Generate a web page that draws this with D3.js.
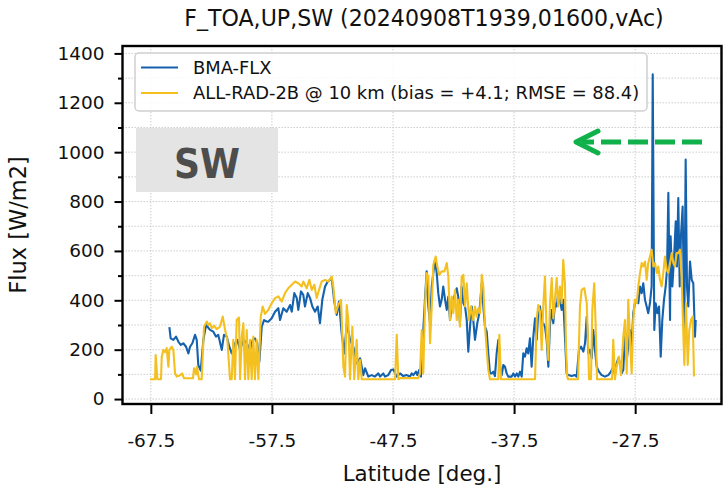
<!DOCTYPE html>
<html><head><meta charset="utf-8">
<script src="https://cdn.jsdelivr.net/npm/d3@7"></script>
<style>body{margin:0;background:#fff}svg{display:block}text{font-family:"DejaVu Sans",sans-serif}</style>
</head><body><svg id="c" width="725" height="487"></svg>
<script>
// ---- data ----
const titleText = "F_TOA,UP,SW (20240908T1939,01600,vAc)";
const xTickValues = [-67.5, -57.5, -47.5, -37.5, -27.5];
const xTickLabels = ["-67.5", "-57.5", "-47.5", "-37.5", "-27.5"];
const yTickValues = [0, 200, 400, 600, 800, 1000, 1200, 1400];
const yMinorValues = [100, 300, 500, 700, 900, 1100, 1300];
const seriesNames = ["BMA-FLX", "ALL-RAD-2B @ 10 km (bias = +4.1; RMSE = 88.4)"];

const bmaLat = [
 -65.97,-65.86,-65.64,-65.42,-65.23,-65.03,-64.82,-64.59,-64.40,-64.26,-64.07,-63.85,-63.71,-63.58,-63.38,-63.16,-62.94,-62.61,-62.34,-62.12,-61.93,-61.64,-61.46,-61.23,-61.02,-60.82,-60.55,-60.36,-60.13,-59.86,-59.58,-59.31,-59.08,-58.90,-58.71,-58.54,
 -58.34,-58.15,-57.93,-57.80,-57.52,-57.24,-56.97,-56.83,-56.56,-56.28,-56.00,-55.86,-55.65,-55.45,-55.32,-55.10,-54.91,-54.77,-54.54,-54.35,-54.16,-53.94,-53.72,-53.53,-53.34,-53.11,-52.89,-52.70,-52.56,-52.35,-52.15,-51.96,-51.74,-51.52,-51.32,-51.05,-50.78,-50.50,-50.22,-49.95,-49.81,-49.54,-49.26,-48.99,-48.71,-48.57,-48.30,-48.16,-47.89,-47.66,
 -47.47,-47.19,-46.92,-46.65,-46.37,-46.10,-45.95,-45.82,-45.60,-45.49,-45.33,-45.19,-45.00,-44.86,-44.72,-44.58,-44.44,-44.30,-44.17,-44.03,-43.89,-43.76,-43.62,-43.48,-43.35,-43.20,-43.06,-42.93,-42.79,-42.65,-42.52,-42.24,-42.11,-41.97,-41.83,-41.69,-41.55,-41.41,-41.28,-41.14,-41.00,-40.87,-40.73,-40.54,-40.37,-40.17,-40.04,-39.90,-39.76,-39.63,-39.49,-39.35,-39.22,-39.08,-38.94,-38.80,-38.66,-38.52,-38.39,-38.25,
 -38.11,-37.98,-37.70,-37.56,-37.42,-37.28,-37.15,-37.01,-36.87,-36.74,-36.60,-36.46,-36.33,-36.19,-36.05,-35.91,-35.77,-35.63,-35.50,-35.36,-35.22,-35.09,-34.95,-34.81,-34.67,-34.53,-34.39,-34.26,-34.12,-33.98,-33.85,-33.71,-33.57,-33.44,-33.30,-33.16,-33.02,-32.74,-32.47,-32.33,-32.14,-31.97,-31.78,-31.64,-31.50,-31.37,-31.23,-31.09,-30.96,-30.82,-30.68,-30.49,-30.27,-29.99,-29.72,-29.50,-29.31,-29.17,-29.03,-28.89,-28.75,-28.61,-28.48,
 -28.34,-28.20,-28.07,-27.93,-27.79,-27.66,-27.52,-27.37,-27.24,-27.10,-26.96,-26.83,-26.69,-26.55,-26.42,-26.28,-26.14,-26.05,-25.92,-25.81,-25.67,-25.53,-25.39,-25.26,-25.12,-24.98,-24.87,-24.76,-24.62,-24.57,-24.43,-24.27,-24.15,-24.05,-23.94,-23.82,-23.72,-23.58,-23.44,-23.33,-23.22,-23.11,-22.97,-22.83,-22.70,-22.56,-22.50
];
const bmaFlux = [
 291,246,240,253,233,219,226,212,185,212,226,260,240,138,115,240,300,280,273,253,260,199,260,253,212,185,226,240,199,240,226,199,240,246,226,151,
 293,320,314,313,327,354,368,320,368,354,381,354,429,409,361,436,422,375,429,409,375,354,375,307,402,456,476,483,490,395,341,395,267,185,307,240,212,145,165,97,125,91,97,91,104,91,104,91,97,118,
 120,91,104,93,97,91,104,97,111,97,118,91,280,402,517,375,307,456,510,564,510,429,375,402,456,402,361,415,320,375,402,449,415,307,456,388,375,320,192,293,375,320,240,307,348,469,375,293,273,185,104,104,111,93,185,240,131,97,138,131,
 104,91,91,104,91,104,91,111,91,185,172,206,185,246,131,253,327,240,361,375,307,307,293,240,131,307,361,307,388,375,429,402,361,402,253,104,97,93,97,91,199,212,192,226,334,185,199,165,280,199,131,111,97,91,97,111,131,97,145,165,145,104,118,
 267,158,212,280,212,348,388,402,388,456,429,469,402,375,348,388,456,1315,280,388,348,375,172,320,402,456,524,835,320,659,456,591,720,537,814,456,660,780,280,970,456,375,557,483,469,253,320
];

const radLat = [
 -67.57,-67.15,-67.10,-66.96,-66.66,-66.60,-66.47,-66.33,-66.19,-66.05,-65.97,-65.77,-65.64,-65.50,-65.36,-65.09,-64.92,-64.76,-64.26,-64.02,-63.93,-63.81,-63.77,-63.69,-63.52,
 -63.30,-63.11,-62.88,-62.75,-62.61,-62.47,-62.28,-62.06,-61.79,-61.56,-61.37,-61.18,-60.96,-60.82,-60.69,-60.55,-60.41,-60.22,-60.13,-59.99,-59.86,-59.72,-59.58,-59.45,-59.31,-59.17,-59.04,-58.90,-58.76,-58.62,
 -58.42,-58.26,-58.07,-57.80,-57.52,-57.24,-56.97,-56.69,-56.42,-56.15,-55.86,-55.59,-55.32,-55.04,-54.91,-54.63,-54.41,-54.21,-54.00,-53.80,-53.61,-53.39,-53.11,-52.84,-52.56,-52.43,-52.23,-52.02,-51.79,-51.60,-51.46,-51.32,-51.19,-51.05,-50.86,-50.70,-50.50,-50.37,-50.22,-50.08,
 -47.33,-47.19,-47.06,-46.92,-45.41,-45.27,-45.13,-45.00,-44.86,-44.72,-44.58,-44.44,-44.30,-44.17,-43.97,-43.84,-43.68,-43.48,-43.26,-43.06,-42.93,-42.79,-42.65,-42.52,-42.38,-42.24,-42.11,-41.97,-41.83,-41.69,-41.55,-41.41,-41.22,-41.06,-40.87,-40.73,-40.59,-40.46,-40.31,-40.17,-40.04,-39.90,-39.76,-39.63,-39.49,-38.80,-38.72,-38.58,
 -35.77,-35.63,-35.50,-35.36,-35.22,-35.09,-34.95,-34.81,-34.67,-34.53,-34.39,-34.26,-34.12,-33.98,-33.85,-33.71,-33.57,-33.44,-33.30,-33.21,-33.11,-33.05,-32.22,-32.06,-31.92,-31.70,-31.50,-31.37,-31.31,-31.15,-31.04,-30.88,-30.76,-30.65,
 -29.41,-29.31,-29.17,-29.03,-28.84,-28.67,-28.48,-28.34,-28.20,-28.07,-27.93,-27.79,-27.66,-27.52,-27.37,-27.24,-27.10,-26.96,-26.83,-26.69,-26.55,-26.42,-26.28,-26.14,-26.00,-25.86,-25.72,-25.59,-25.45,-25.31,-25.18,-25.04,-24.90,-24.76,-24.62,-24.48,-24.35,-24.21,-24.07,-23.94,-23.80,-23.66,-23.53,-23.44,-23.30,-23.16,-23.03,-22.89,-22.75,-22.64
];
const radFlux = [
 80,80,178,80,80,170,199,190,206,131,199,212,199,104,91,96,104,84,84,84,125,110,100,131,80,
 80,293,314,300,307,287,297,283,293,334,280,240,80,80,240,80,320,330,80,253,307,80,280,80,240,80,253,80,240,80,
 334,375,345,361,388,409,416,395,429,449,463,476,469,456,476,449,483,442,463,409,442,476,483,476,496,456,348,381,402,131,91,381,320,80,293,80,240,80,158,80,
 80,260,80,85,85,104,280,104,375,510,496,226,375,544,577,537,503,517,517,551,496,320,415,348,442,320,402,293,496,503,375,469,320,375,320,375,334,368,348,503,456,293,199,118,80,80,260,80,
 80,327,381,354,199,375,496,267,158,388,490,327,409,490,375,456,388,564,469,199,91,80,80,375,442,449,388,199,80,80,361,469,293,80,
 80,240,80,131,172,97,253,320,104,402,240,104,320,402,389,456,510,551,537,557,483,551,577,605,537,551,510,537,483,456,510,577,524,510,551,591,551,537,591,591,605,483,280,138,388,138,280,320,334,91
];
const colors = ["#1461ad", "#f4c020"];

// ---- layout ----
const svg = d3.select("#c");
const L = 122.5, R = 721.5, T = 46, B = 404;
const x = d3.scaleLinear().domain([-69.84, -20.37]).range([L, R]);
const y = d3.scaleLinear().domain([-20, 1430]).range([B, T]);

// grid
const grid = svg.append("g");
grid.selectAll("line.h").data(yTickValues.concat(yMinorValues)).join("line")
  .attr("x1", L).attr("x2", R).attr("y1", d => y(d)).attr("y2", d => y(d))
  .attr("stroke", "#c4c4c4").attr("stroke-width", 0.9).attr("stroke-dasharray", "1.4,1.6");
grid.selectAll("line.v").data(xTickValues).join("line")
  .attr("y1", T).attr("y2", B).attr("x1", d => x(d)).attr("x2", d => x(d))
  .attr("stroke", "#c4c4c4").attr("stroke-width", 0.9).attr("stroke-dasharray", "1.4,1.6");

// clip
svg.append("clipPath").attr("id", "clip").append("rect")
  .attr("x", L).attr("y", T).attr("width", R - L).attr("height", B - T);

const line = d3.line().x(d => x(d[0])).y(d => y(d[1]));
const bma = bmaLat.map((v, i) => [v, bmaFlux[i]]);
const rad = radLat.map((v, i) => [v, radFlux[i]]);
const gl = svg.append("g").attr("clip-path", "url(#clip)");
gl.append("path").datum(bma).attr("d", line).attr("fill", "none")
  .attr("stroke", colors[0]).attr("stroke-width", 2.1).attr("stroke-linejoin", "round");
gl.append("path").datum(rad).attr("d", line).attr("fill", "none")
  .attr("stroke", colors[1]).attr("stroke-width", 2.1).attr("stroke-linejoin", "round");

// axes
const xAxis = d3.axisBottom(x).tickValues(xTickValues).tickFormat((d, i) => xTickLabels[i]).tickSize(10).tickPadding(20);
const gx = svg.append("g").attr("transform", `translate(0,${B})`).call(xAxis);
const yAxis = d3.axisLeft(y).tickValues(yTickValues).tickFormat(d3.format("d")).tickSize(8).tickPadding(10);
const gy = svg.append("g").attr("transform", `translate(${L},0)`).call(yAxis);
const yMinor = d3.axisLeft(y).tickValues(yMinorValues).tickSize(4.5).tickFormat("");
const gym = svg.append("g").attr("transform", `translate(${L},0)`).call(yMinor);
[gx, gy, gym].forEach(g => {
  g.select(".domain").remove();
  g.selectAll(".tick line").attr("stroke", "#000").attr("stroke-width", 2);
  g.selectAll(".tick text").attr("fill", "#111").style("font-size", "18.5px").style("font-family", "DejaVu Sans");
});

// frame
svg.append("rect").attr("x", L).attr("y", T).attr("width", R - L).attr("height", B - T)
  .attr("fill", "none").attr("stroke", "#000").attr("stroke-width", 2.4);

// title & labels
svg.append("text").attr("x", 424).attr("y", 26).attr("text-anchor", "middle")
  .style("font-size", "22.1px").attr("fill", "#111").text(titleText);
svg.append("text").attr("x", 422).attr("y", 481).attr("text-anchor", "middle")
  .style("font-size", "21.4px").attr("fill", "#111").text("Latitude [deg.]");
svg.append("text").attr("transform", "translate(26,225) rotate(-90)").attr("text-anchor", "middle")
  .style("font-size", "22.5px").attr("fill", "#111").text("Flux [W/m2]");

// legend
const lg = svg.append("g");
lg.append("rect").attr("x", 135).attr("y", 53).attr("width", 512).attr("height", 58).attr("rx", 4)
  .attr("fill", "#fff").attr("fill-opacity", 0.85).attr("stroke", "#d0d0d0").attr("stroke-width", 1.5);
seriesNames.forEach((n, i) => {
  const yy = 67.5 + i * 25.5;
  lg.append("line").attr("x1", 141).attr("x2", 178).attr("y1", yy).attr("y2", yy)
    .attr("stroke", colors[i]).attr("stroke-width", 2);
  lg.append("text").attr("x", 193).attr("y", yy + 6.4).style("font-size", "17.9px").attr("fill", "#111").text(n);
});

// SW box
svg.append("rect").attr("x", 136).attr("y", 128).attr("width", 142).attr("height", 64).attr("fill", "#e4e4e4");
svg.append("text").attr("x", 207).attr("y", 178).attr("text-anchor", "middle")
  .style("font-size", "40px").style("font-weight", "bold").attr("fill", "#4d4d4d")
  .attr("textLength", 66).attr("lengthAdjust", "spacingAndGlyphs").text("SW");

// green arrow
const ga = svg.append("g").attr("stroke", "#10b04a").attr("stroke-width", 5).attr("fill", "none");
ga.append("line").attr("x1", 702).attr("x2", 582).attr("y1", 142).attr("y2", 142).attr("stroke-dasharray", "20,7");
ga.append("path").attr("d", "M598,131 L576,142 L598,153").attr("stroke-linecap", "round").attr("stroke-linejoin", "round");
</script></body></html>
